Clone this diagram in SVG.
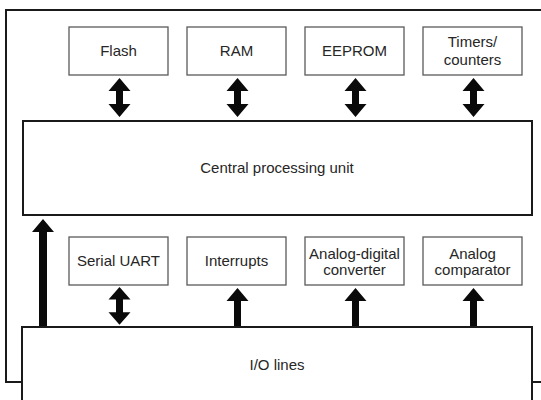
<svg xmlns="http://www.w3.org/2000/svg" xmlns:xlink="http://www.w3.org/1999/xlink" width="541" height="400" viewBox="0 0 541 400">
  <style>
    .frame { fill: #ffffff; stroke: #1a1a1a; stroke-width: 2; }
    .open { fill: none; stroke: #1a1a1a; stroke-width: 2; }
    .box { fill: #ffffff; stroke: #5a5a5a; stroke-width: 1.3; }
    .lbl { font-family: "Liberation Sans", Arial, sans-serif; font-size: 15px; fill: #262626; text-anchor: middle; }
    .arrow { fill: #0a0a0a; }
  </style>
  <defs>
    <path id="dbl" d="M0,0 L11,13 L3.5,13 L3.5,26 L11,26 L0,39 L-11,26 L-3.5,26 L-3.5,13 L-11,13 Z"/>
    <path id="up" d="M0,0 L11,13 L3.5,13 L3.5,38 L-3.5,38 L-3.5,13 L-11,13 Z"/>
  </defs>
  <rect width="541" height="400" fill="#ffffff"/>
  <g id="outer-frame">
    <path class="open" d="M560,10 L6,10 L6,382 L560,382"/>
  </g>
  <g id="flash">
    <rect class="box" x="69" y="27" width="99" height="48"/>
    <text class="lbl" x="118.5" y="56">Flash</text>
  </g>
  <g id="ram">
    <rect class="box" x="187" y="27" width="99" height="48"/>
    <text class="lbl" x="236.5" y="56">RAM</text>
  </g>
  <g id="eeprom">
    <rect class="box" x="305" y="27" width="99" height="48"/>
    <text class="lbl" x="354.5" y="56">EEPROM</text>
  </g>
  <g id="timers">
    <rect class="box" x="423" y="27" width="99" height="48"/>
    <text class="lbl" x="472.5" y="47">Timers/</text>
    <text class="lbl" x="472.5" y="65">counters</text>
  </g>
  <g id="cpu">
    <rect class="frame" x="23" y="121" width="509" height="94"/>
    <text class="lbl" x="277" y="173">Central processing unit</text>
  </g>
  <g id="serial-uart">
    <rect class="box" x="69" y="237" width="99" height="48"/>
    <text class="lbl" x="118.5" y="266">Serial UART</text>
  </g>
  <g id="interrupts">
    <rect class="box" x="187" y="237" width="99" height="48"/>
    <text class="lbl" x="236.5" y="266">Interrupts</text>
  </g>
  <g id="adc">
    <rect class="box" x="305" y="237" width="99" height="48"/>
    <text class="lbl" x="354.5" y="259">Analog-digital</text>
    <text class="lbl" x="354.5" y="275">converter</text>
  </g>
  <g id="comparator">
    <rect class="box" x="423" y="237" width="99" height="48"/>
    <text class="lbl" x="472.5" y="259">Analog</text>
    <text class="lbl" x="472.5" y="275">comparator</text>
  </g>
  <g id="connectors" class="arrow">
    <use xlink:href="#dbl" transform="translate(119.5,78)"/>
    <use xlink:href="#dbl" transform="translate(237.5,78)"/>
    <use xlink:href="#dbl" transform="translate(355.5,78)"/>
    <use xlink:href="#dbl" transform="translate(473.5,78)"/>
    <use xlink:href="#dbl" transform="translate(119.5,287) scale(1,0.97)"/>
    <use xlink:href="#up" transform="translate(237.5,288)"/>
    <use xlink:href="#up" transform="translate(355.5,288)"/>
    <use xlink:href="#up" transform="translate(473.5,288)"/>
    <path d="M43,219 L54,232 L47,232 L47,327 L39,327 L39,232 L32,232 Z"/>
  </g>
  <g id="io-lines">
    <rect class="frame" x="22" y="327" width="510" height="90"/>
    <text class="lbl" x="277" y="370">I/O lines</text>
  </g>
</svg>
